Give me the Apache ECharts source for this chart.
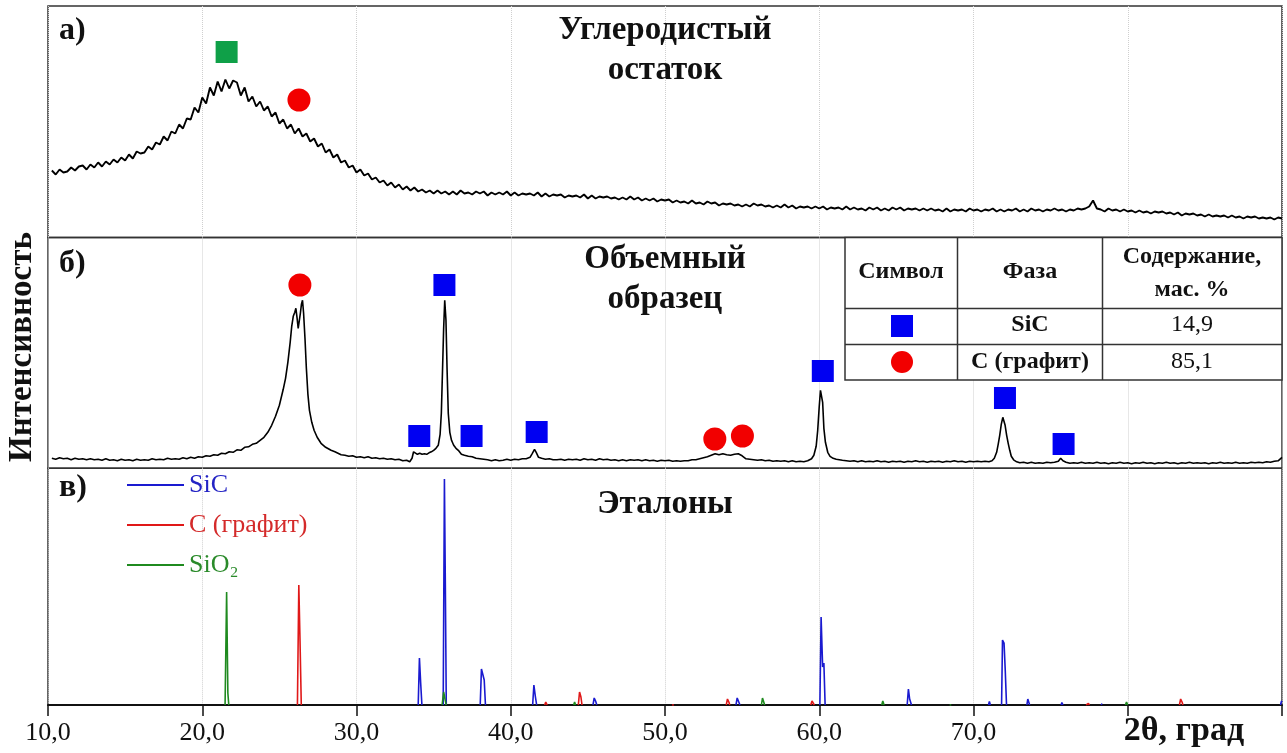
<!DOCTYPE html>
<html>
<head>
<meta charset="utf-8">
<script src="https://cdn.jsdelivr.net/npm/echarts/dist/echarts.min.js"></script>
<style>
html,body{margin:0;padding:0;background:#fff;}
#chart{width:1287px;height:753px;}
</style>
</head>
<body>
<div id="chart"></div>
<script>
// ---------- DATA ----------
// X axis (2θ, degrees)
const axisMin = 10, axisMax = 90, axisStep = 10;
const tickLabels = ['10,0','20,0','30,0','40,0','50,0','60,0','70,0'];

// Panel a) "Углеродистый остаток" – scan sampled every 0.25° from 10.25°
const scanStartA = 10.25, scanStepA = 0.25;
const intensityA = [
 67,63,68,65, 66,70,67,71, 72,68,73,70, 75,71,76,73, 78,75,80,77,
 83,79,86,84, 85,91,88,95, 93,101,97,106, 104,113,109,119, 118,130,125,140,
 134,150,142,156, 146,158,149,157, 155,142,150,136, 141,131,136,127, 131,121,125,114,
 118,109,113,104, 109,101,104,96, 99,91,94,85, 88,80,83,75, 77,70,72,65,
 68,62,64,58, 60,55,57,52, 55,50,53,48, 51,47,50,46, 48,45,47,44,
 47,44,46,43, 46,43,47,44, 45,43,46,44, 46,42,45,43, 45,43,46,42,
 45,42,44,43, 44,42,45,41, 44,41,43,42, 43,40,42,41, 42,40,43,39,
 42,39,41,40, 41,39,40,38, 40,38,41,38, 40,37,39,37, 39,36,38,37,
 38,35,37,35, 36,34,37,34, 35,33,36,34, 35,32,34,33, 34,32,33,31,
 33,31,34,32, 33,31,32,30, 32,30,33,30, 32,29,31,30, 31,29,31,29,
 31,28,30,29, 30,28,31,28, 30,28,29,27, 30,28,30,27, 29,27,30,28,
 30,27,29,28, 29,27,29,27, 29,27,28,26, 29,26,28,27, 28,26,29,27,
 28,26,28,27, 29,26,28,26, 28,27,29,26, 28,26,29,27, 28,26,28,27,
 29,27,28,26, 28,27,29,28, 29,31,37,29, 28,26,29,27, 28,26,28,26,
 27,25,27,25, 26,24,26,25, 26,24,25,23, 25,22,24,23, 24,22,23,21,
 23,21,22,21, 22,20,22,20, 21,19,21,20, 21,19,20,19, 20,18,20,19
];

// Panel б) "Объемный образец" – [2θ, intensity]
const patternB = [
 [10.25,10],[10.5,9],[10.75,10.5],[11,9.5],[11.25,10],[11.5,8.5],[11.75,10],[12,9],[12.25,9.5],[12.5,8.5],
 [12.75,9.5],[13,8.5],[13.25,9],[13.5,8],[13.75,9.5],[14,8],[14.25,8.5],[14.5,7.5],[14.75,9],[15,8],
 [15.25,8.5],[15.5,7.5],[15.75,9],[16,8],[16.25,8.5],[16.5,8],[16.75,9.5],[17,8.5],[17.25,9],[17.5,8.5],
 [17.75,10],[18,9],[18.25,9.5],[18.5,9],[18.75,10.5],[19,9.5],[19.25,11],[19.5,10],[19.75,11.5],[20,11],
 [20.25,12.5],[20.5,12],[20.75,13.5],[21,13],[21.25,15],[21.5,14.5],[21.75,16.5],[22,16],[22.25,18.5],[22.5,18],
 [22.75,21],[23,21.5],[23.25,24],[23.5,25],[23.75,28],[24,31],[24.25,36],[24.5,43],[24.75,52],[25,63],
 [25.25,79],[25.4,90],[25.55,106],[25.7,126],[25.8,142],[25.9,152],[26.0,156],[26.07,160],[26.15,150],[26.22,140],
 [26.29,142],[26.36,155],[26.43,164],[26.5,168],[26.57,155],[26.66,130],[26.75,100],[26.85,74],[26.95,58],[27.1,46],
 [27.25,38],[27.45,31],[27.7,25],[28.0,21],[28.35,18],[28.6,16.5],[29,13.5],[29.25,13],[29.5,12],[29.75,12.5],
 [30,11],[30.25,11.5],[30.5,10.5],[30.75,11.5],[31,10],[31.25,10.5],[31.5,9.5],[31.75,10],[32,9],[32.25,9.5],
 [32.5,8.5],[32.75,9],[33,7.5],[33.25,8],[33.45,6.5],[33.6,10],[33.7,16.5],[33.8,15.5],[33.95,14],[34.1,15],
 [34.25,14],[34.4,14.5],[34.55,14],[34.7,15.5],[34.85,16.5],[35.0,18],[35.15,20],[35.3,23],[35.42,34],[35.5,55],
 [35.58,100],[35.65,140],[35.72,168],[35.8,148],[35.87,100],[35.95,55],[36.05,36],[36.16,28],[36.3,23],[36.45,20],
 [36.6,18],[36.8,14],[37.0,13],[37.25,12],[37.5,11.5],[37.75,10],[38,9.5],[38.25,9],[38.5,8.5],[38.75,7.5],
 [39,8.5],[39.25,7.5],[39.5,8],[39.75,9],[40,8],[40.25,9],[40.5,8.5],[40.75,9.5],[41,9.5],[41.25,11],
 [41.4,15],[41.54,19],[41.65,16],[41.8,11],[42,10],[42.25,9],[42.5,9.5],[42.75,8.5],[43,8.5],[43.25,9],
 [43.5,8],[43.75,9],[44,8.5],[44.25,9],[44.5,8],[44.75,9.5],[45,8.5],[45.25,9],[45.5,8],[45.75,9.5],
 [46,8.5],[46.25,9],[46.5,8],[46.75,8.5],[47,7.5],[47.25,8.5],[47.5,7.5],[47.75,8.5],[48,8],[48.25,8.5],
 [48.5,7.5],[48.75,8.5],[49,7.5],[49.25,8],[49.5,7],[49.75,8],[50,7.5],[50.25,8],[50.5,7],[50.75,7.5],
 [51,7],[51.25,7.5],[51.5,7.5],[51.75,8.5],[52,8.5],[52.25,9.5],[52.5,10.5],[52.75,11.5],[53,13],[53.25,14.5],
 [53.5,13.5],[53.75,14.5],[54,13.5],[54.25,13],[54.5,14],[54.75,14.5],[55,12.5],[55.25,9.5],[55.5,9],[55.75,8.5],
 [56,8],[56.25,8.5],[56.5,7.5],[56.75,8],[57,7],[57.25,7.5],[57.5,7],[57.75,7.5],[58,6.5],[58.25,7.5],
 [58.5,6.5],[58.75,7],[59,6.5],[59.25,7.5],[59.5,9.5],[59.65,13],[59.8,22],[59.9,38],[60.0,62],[60.08,78],
 [60.15,72],[60.22,66],[60.3,40],[60.4,26],[60.55,16],[60.7,12],[60.9,10],[61.1,9],[61.3,8.5],[61.5,8],
 [61.75,7.5],[62,7],[62.25,7.5],[62.5,6.5],[62.75,7.5],[63,6.5],[63.25,7],[63.5,6.5],[63.75,7.5],[64,6.5],
 [64.25,7],[64.5,6],[64.75,7],[65,6.5],[65.25,7],[65.5,6],[65.75,7],[66,6.5],[66.25,7.5],[66.5,6.5],
 [66.75,7],[67,6],[67.25,7],[67.5,6.5],[67.75,7],[68,6],[68.25,7],[68.5,6.5],[68.75,7.5],[69,6.5],
 [69.25,7],[69.5,6],[69.75,7],[70,6.5],[70.25,7],[70.5,6.5],[70.75,7],[71,6.5],[71.2,7.5],[71.35,10],
 [71.5,16],[71.6,24],[71.7,33],[71.8,44],[71.9,51],[71.97,51.5],[72.05,43],[72.15,33],[72.25,25],[72.35,18],
 [72.45,12],[72.6,8.5],[72.8,6.5],[73,5.5],[73.25,6],[73.5,5],[73.75,6],[74,5],[74.25,5.5],[74.5,5],
 [74.75,6],[75,5.5],[75.25,6],[75.5,7],[75.65,10],[75.8,7.5],[76,6],[76.25,5],[76.5,5.5],[76.75,5],
 [77,6],[77.25,5],[77.5,5.5],[77.75,5],[78,6],[78.25,5],[78.5,5.5],[78.75,4.5],[79,5.5],[79.25,5],
 [79.5,6],[79.75,5],[80,5.5],[80.25,4.5],[80.5,5.5],[80.75,5],[81,6],[81.25,5],[81.5,5.5],[81.75,4.5],
 [82,5.5],[82.25,5],[82.5,6],[82.75,5],[83,5.5],[83.25,4.5],[83.5,5.5],[83.75,5],[84,6],[84.25,5],
 [84.5,5.5],[84.75,5],[85,5.5],[85.25,4.5],[85.5,5.5],[85.75,5],[86,6],[86.25,5],[86.5,5.5],[86.75,5],
 [87,6],[87.25,5],[87.5,5.5],[87.75,5],[88,6],[88.25,5.5],[88.5,6],[88.75,5.5],[89,6.5],[89.25,6],
 [89.5,7],[89.75,7.5],[90,11]
];

// Phase markers [2θ, intensity level]
const markersA_SiO2 = [[21.58,185.5]];
const markersA_C    = [[26.27,137.5]];
const markersB_SiC  = [[35.70,183.3],[34.07,32.3],[37.46,32.3],[41.68,36.3],[60.23,97.3],[72.04,70.3],[75.84,24.3]];
const markersB_C    = [[26.33,183.3],[53.23,29.3],[55.02,32.3]];

// Panel в) reference patterns – line profiles [2θ, intensity]
const refSiC = [
 [[34.0,0],[34.08,47],[34.16,22],[34.24,0]],
 [[35.62,0],[35.70,226],[35.76,120],[35.82,0]],
 [[38.02,0],[38.1,36],[38.18,38],[38.28,25],[38.36,0]],
 [[41.42,0],[41.5,20],[41.6,8],[41.68,0]],
 [[45.33,0],[45.41,7],[45.5,4],[45.58,0]],
 [[54.6,0],[54.68,7],[54.78,5],[54.86,0]],
 [[60.04,0],[60.12,88],[60.22,38],[60.3,42],[60.38,0]],
 [[65.7,0],[65.78,16],[65.86,6],[65.92,8],[65.98,0]],
 [[70.97,0],[71.03,3.5],[71.09,0]],
 [[71.82,0],[71.88,65],[71.98,62],[72.06,34],[72.14,0]],
 [[73.46,0],[73.52,6],[73.58,3],[73.64,0]],
 [[75.68,0],[75.73,2.5],[75.8,0]],
 [[78.28,0],[78.33,1.5],[78.38,0]],
 [[89.9,0],[89.97,4],[90,3]]
];
const refGraphite = [
 [[26.17,0],[26.26,120],[26.34,63],[26.42,0]],
 [[42.2,0],[42.27,3],[42.36,0]],
 [[44.38,0],[44.46,13],[44.55,8],[44.62,0]],
 [[50.45,0],[50.51,2],[50.58,0]],
 [[53.97,0],[54.05,6],[54.14,3],[54.2,0]],
 [[59.45,0],[59.53,4],[59.62,2],[59.68,0]],
 [[77.3,0],[77.37,2],[77.45,1.5],[77.52,0]],
 [[83.35,0],[83.43,6],[83.52,3],[83.58,0]]
];
const refSiO2 = [
 [[21.48,0],[21.58,113],[21.66,12],[21.72,0]],
 [[35.55,0],[35.65,13],[35.75,5],[35.82,0]],
 [[44.08,0],[44.14,3],[44.2,0]],
 [[56.25,0],[56.32,7],[56.4,3],[56.46,0]],
 [[64.05,0],[64.12,4],[64.2,0]],
 [[68.45,0],[68.5,1.2],[68.56,0]],
 [[79.85,0],[79.92,3],[80.0,0]]
];

// Phase table
const tableHeader = ['Символ', 'Фаза', 'Содержание,\nмас. %'];
const tablePhases = ['SiC', 'С (графит)'];
const tableContent = ['14,9', '85,1'];
const legendNames = ['SiC', 'С (графит)', 'SiO₂'];

// ---------- CHART ----------
const FONT = "'Liberation Serif','Times New Roman',serif";
const BLUE = '#0000f2', RED = '#f20000', GREEN = '#0fa048';
const LBLUE = '#1a1ad0', LRED = '#e01818', LGREEN = '#1f8a1f';

const seriesA = intensityA.map((v, i) => [scanStartA + i * scanStepA, v]);
function profile(groups) {
  const out = [];
  groups.forEach((g, i) => { if (i) out.push(['-', '-']); g.forEach(p => out.push(p)); });
  return out;
}

const gridTop = [6, 237.5, 468.3];
const gridH = [231.5, 230.8, 236.7];

function xAx(idx, last) {
  return {
    type: 'value', gridIndex: idx, min: axisMin, max: axisMax, interval: axisStep,
    splitLine: { show: true, lineStyle: { type: 'dotted', color: '#cfcfcf', width: 1 } },
    axisLine: { show: last, onZero: false, lineStyle: { color: '#111', width: 2 } },
    axisTick: { show: last, inside: false, length: 11, lineStyle: { color: '#111', width: 1.5 } },
    axisLabel: {
      show: last, margin: 15, fontFamily: FONT, fontSize: 26, color: '#111',
      formatter: v => { const i = Math.round((v - axisMin) / axisStep); return tickLabels[i] || ''; }
    }
  };
}
function yAx(idx) {
  return { type: 'value', gridIndex: idx, min: 0, max: gridH[idx], show: false };
}

const txt = (text, x, y, size, bold, align) => ({
  type: 'text', x: x, y: y, z: 20,
  style: { text: text, font: (bold ? 'bold ' : '') + size + 'px ' + FONT, fill: '#111', align: align || 'center', verticalAlign: 'middle' }
});

const chart = echarts.init(document.getElementById('chart'), null, { renderer: 'canvas' });
const yTitle = txt('Интенсивность', 22, 347, 33, true);
yTitle.rotation = Math.PI / 2;
chart.setOption({
  animation: false,
  backgroundColor: '#fff',
  grid: [0, 1, 2].map(i => ({
    left: 48, right: 5, top: gridTop[i], height: gridH[i],
    show: true, borderColor: '#333', borderWidth: 1.5, backgroundColor: 'transparent'
  })),
  xAxis: [xAx(0, false), xAx(1, false), xAx(2, true)],
  yAxis: [yAx(0), yAx(1), yAx(2)],
  legend: {
    orient: 'vertical', left: 127, top: 471, padding: 0,
    itemWidth: 57, itemHeight: 2, itemGap: 12, icon: 'rect',
    textStyle: { fontFamily: FONT, fontSize: 26, lineHeight: 28 },
    data: [
      { name: legendNames[0], textStyle: { color: '#2323c4' } },
      { name: legendNames[1], textStyle: { color: '#d42a2a' } },
      { name: legendNames[2], textStyle: { color: '#2a8a2a' } }
    ]
  },
  series: [
    { type: 'line', xAxisIndex: 0, yAxisIndex: 0, data: seriesA, showSymbol: false, silent: true,
      lineStyle: { color: '#000', width: 1.9 } },
    { type: 'line', xAxisIndex: 1, yAxisIndex: 1, data: patternB, showSymbol: false, silent: true,
      lineStyle: { color: '#000', width: 1.6 } },
    { type: 'scatter', xAxisIndex: 0, yAxisIndex: 0, data: markersA_SiO2, symbol: 'rect', symbolSize: 22, itemStyle: { color: GREEN, opacity: 1 }, z: 5 },
    { type: 'scatter', xAxisIndex: 0, yAxisIndex: 0, data: markersA_C, symbol: 'circle', symbolSize: 23, itemStyle: { color: RED, opacity: 1 }, z: 5 },
    { type: 'scatter', xAxisIndex: 1, yAxisIndex: 1, data: markersB_SiC, symbol: 'rect', symbolSize: 22, itemStyle: { color: BLUE, opacity: 1 }, z: 5 },
    { type: 'scatter', xAxisIndex: 1, yAxisIndex: 1, data: markersB_C, symbol: 'circle', symbolSize: 23, itemStyle: { color: RED, opacity: 1 }, z: 5 },
    { name: legendNames[0], type: 'line', xAxisIndex: 2, yAxisIndex: 2, data: profile(refSiC), showSymbol: false,
      connectNulls: false, color: LBLUE, lineStyle: { color: LBLUE, width: 1.6 } },
    { name: legendNames[1], type: 'line', xAxisIndex: 2, yAxisIndex: 2, data: profile(refGraphite), showSymbol: false,
      connectNulls: false, color: LRED, lineStyle: { color: LRED, width: 1.6 } },
    { name: legendNames[2], type: 'line', xAxisIndex: 2, yAxisIndex: 2, data: profile(refSiO2), showSymbol: false,
      connectNulls: false, color: LGREEN, lineStyle: { color: LGREEN, width: 1.6 } }
  ],
  graphic: [
    // axis titles
    yTitle,
    txt('2θ, град', 1184, 731, 34, true),
    // panel labels
    txt('a)', 59, 31, 32, true, 'left'),
    txt('б)', 59, 264, 32, true, 'left'),
    txt('в)', 59, 488, 32, true, 'left'),
    // panel titles
    txt('Углеродистый', 665, 30, 33, true),
    txt('остаток', 665, 70, 33, true),
    txt('Объемный', 665, 259, 33, true),
    txt('образец', 665, 299, 33, true),
    txt('Эталоны', 665, 504, 33, true),
    // table
    { type: 'rect', z: 15, shape: { x: 845, y: 237.5, width: 437, height: 142.5 }, style: { fill: '#fff', stroke: '#333', lineWidth: 1.5 } },
    { type: 'line', z: 16, shape: { x1: 957.5, y1: 237.5, x2: 957.5, y2: 380 }, style: { stroke: '#333', lineWidth: 1.5 } },
    { type: 'line', z: 16, shape: { x1: 1102.5, y1: 237.5, x2: 1102.5, y2: 380 }, style: { stroke: '#333', lineWidth: 1.5 } },
    { type: 'line', z: 16, shape: { x1: 845, y1: 308.5, x2: 1282, y2: 308.5 }, style: { stroke: '#333', lineWidth: 1.5 } },
    { type: 'line', z: 16, shape: { x1: 845, y1: 344.5, x2: 1282, y2: 344.5 }, style: { stroke: '#333', lineWidth: 1.5 } },
    txt(tableHeader[0], 901, 272, 24, true),
    txt(tableHeader[1], 1030, 272, 24, true),
    txt(tableHeader[2].split('\n')[0], 1192, 257, 24, true),
    txt(tableHeader[2].split('\n')[1], 1192, 290, 24, true),
    { type: 'rect', z: 20, shape: { x: 891, y: 315, width: 22, height: 22 }, style: { fill: BLUE } },
    { type: 'circle', z: 20, shape: { cx: 902, cy: 362, r: 11 }, style: { fill: RED } },
    txt(tablePhases[0], 1030, 325, 24, true),
    txt(tablePhases[1], 1030, 362, 24, true),
    txt(tableContent[0], 1192, 325, 24, false),
    txt(tableContent[1], 1192, 362, 24, false)
  ]
});
</script>
</body>
</html>
